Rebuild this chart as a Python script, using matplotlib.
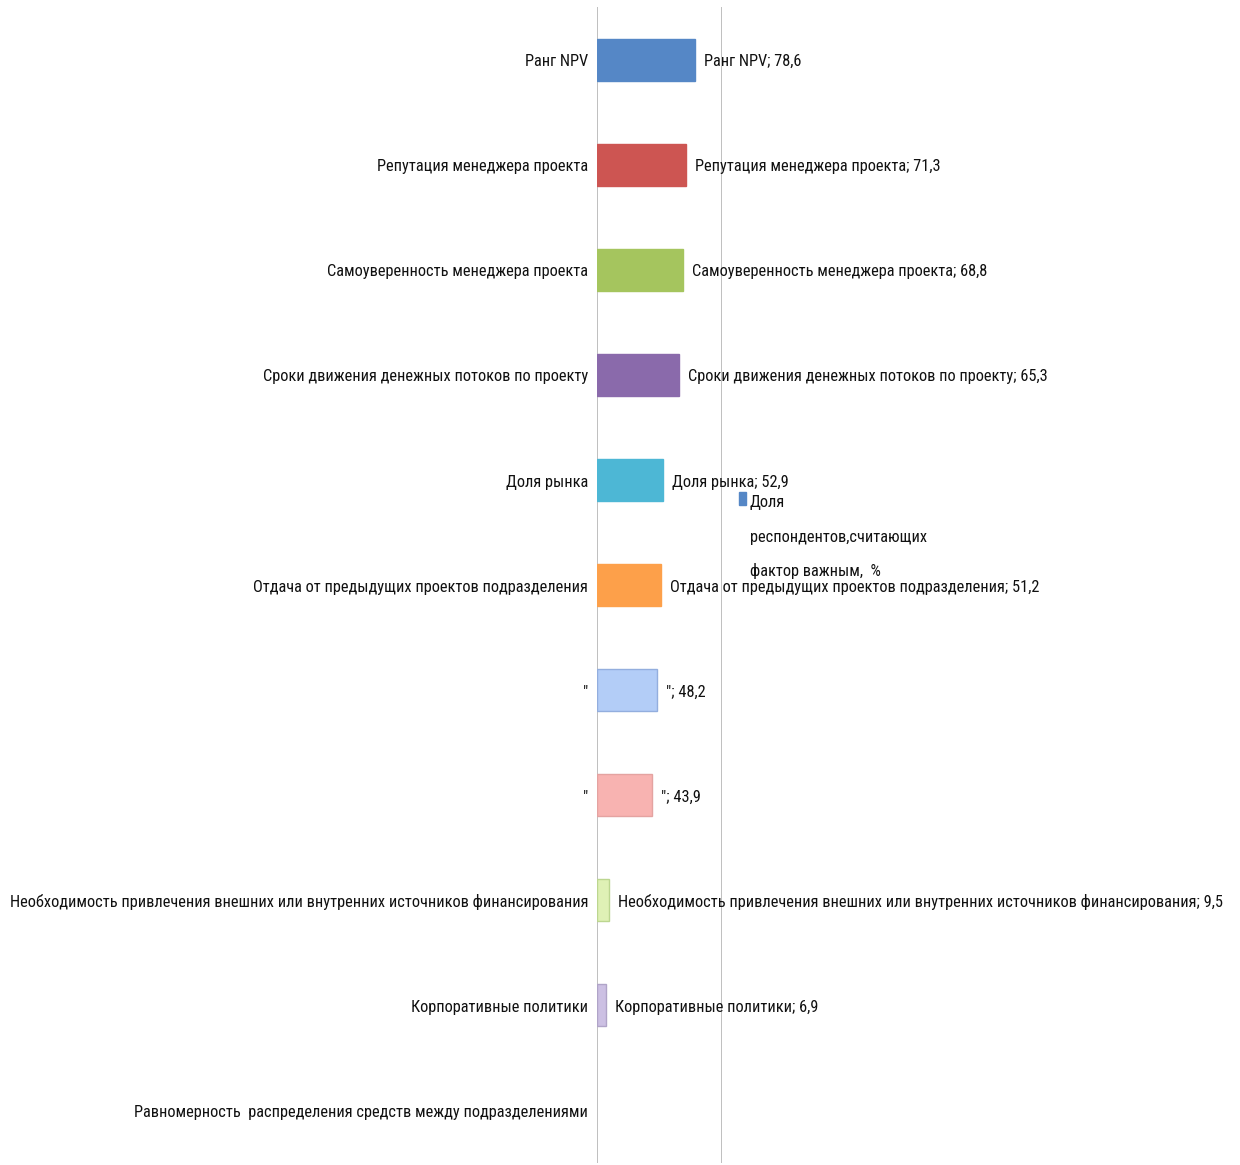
import matplotlib.pyplot as plt
from matplotlib.patches import Rectangle

categories = [
    "Ранг NPV",
    "Репутация менеджера проекта",
    "Самоуверенность менеджера проекта",
    "Сроки движения денежных потоков по проекту",
    "Доля рынка",
    "Отдача от предыдущих проектов подразделения",
    "\"",
    "\"",
    "Необходимость привлечения внешних или внутренних источников финансирования",
    "Корпоративные политики",
    "Равномерность  распределения средств между подразделениями",
]
values = [78.6, 71.3, 68.8, 65.3, 52.9, 51.2, 48.2, 43.9, 9.5, 6.9, None]
colors = ["#5587c6", "#cd5552", "#a5c55e", "#8a6aab", "#4db7d5", "#fda04a",
          "#b3cdf7", "#f8b3b1", "#dff1b5", "#ccc0e3", "#ffffff"]
edges = ["#5587c6", "#cd5552", "#a5c55e", "#8a6aab", "#4db7d5", "#fda04a",
         "#93aede", "#e4a3a1", "#bcd690", "#b0a4c8", "#ffffff"]

FONT = ["Roboto Condensed", "Liberation Sans"]
FS = 11.8
LINE = "#b4b4b4"

fig = plt.figure(figsize=(12.4, 11.65), dpi=100)
ax = fig.add_axes([597 / 1240, 1 - 1163 / 1165, (722 - 597) / 1240, 1156 / 1165])
ax.set_xlim(0, 100)
ax.set_ylim(len(categories) - 0.5, -0.5)
ax.axis("off")

ax.axvline(0, color=LINE, linewidth=1.2, zorder=1)
ax.axvline(100, color=LINE, linewidth=1.2, zorder=1)

for i, (cat, v) in enumerate(zip(categories, values)):
    ax.text(-7.2, i + 0.02, cat, ha="right", va="center", fontsize=FS,
            family=FONT, color="#111111")
    if v is None:
        continue
    ax.barh(i, v, height=0.4, color=colors[i], edgecolor=edges[i],
            linewidth=1, zorder=2)
    lab = f"{cat}; {str(v).replace('.', ',')}"
    ax.text(v + 7.2, i + 0.02, lab, ha="left", va="center", fontsize=FS,
            family=FONT, color="#111111", zorder=3, clip_on=False)

# legend
fig.patches.append(Rectangle((739 / 1240, 1 - 505 / 1165), 7 / 1240, 13 / 1165,
                             transform=fig.transFigure, color="#5587c6"))
fig.text(750 / 1240, 1 - 503 / 1165, "Доля", ha="left", va="center",
         fontsize=FS, family=FONT, color="#111111")
fig.text(750 / 1240, 1 - 537 / 1165, "респондентов,считающих", ha="left",
         va="center", fontsize=FS, family=FONT, color="#111111")
fig.text(750 / 1240, 1 - 571 / 1165, "фактор важным,  %", ha="left",
         va="center", fontsize=FS, family=FONT, color="#111111")

fig.savefig("out.png", dpi=100, facecolor="white")
